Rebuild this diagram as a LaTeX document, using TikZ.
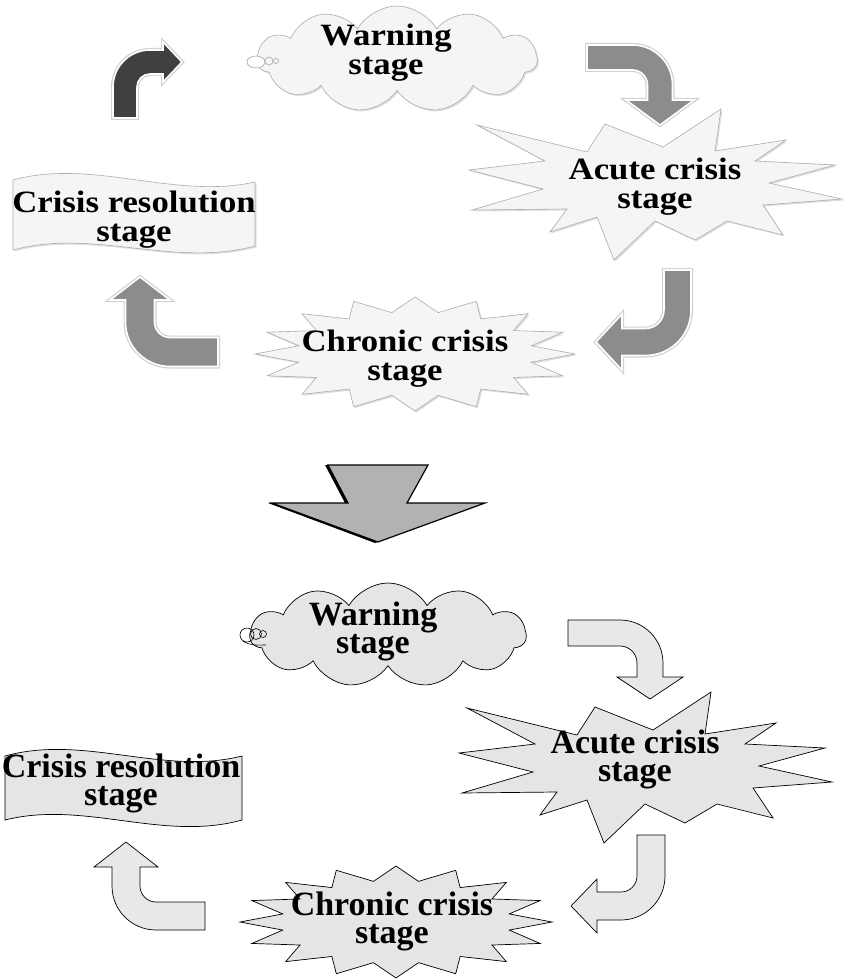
\documentclass[tikz,border=0pt]{standalone}
\usepackage{fontspec}
\setmainfont{Liberation Serif}
\usepackage{graphicx}
\usetikzlibrary{shapes.symbols,shadows}

% slightly widened lettering for the upper cycle
\newcommand{\wl}[1]{\scalebox{1.12}[1]{#1}}

% bent block arrow: #1 style, #2 origin (centre of shaft start), #3 rotation,
% #4 straight part, #5 centre-line bend radius, #6 shaft width,
% #7 distance to head base, #8 head half width, #9 head length
\newcommand{\bentarrow}[9]{%
  \begin{scope}[shift={#2}, rotate=#3]
    \path[#1] (0,{-#6/2}) -- (#4,{-#6/2})
      .. controls ({#4+0.552*(#5+#6/2)},{-#6/2}) and ({#4+#5+#6/2},{#5-0.552*(#5+#6/2)}) .. ({#4+#5+#6/2},#5)
      -- ({#4+#5+#6/2},#7) -- ({#4+#5+#8},#7) -- ({#4+#5},{#7+#9}) -- ({#4+#5-#8},#7)
      -- ({#4+#5-#6/2},#7) -- ({#4+#5-#6/2},#5)
      .. controls ({#4+#5-#6/2},{#5-0.552*(#5-#6/2)}) and ({#4+0.552*(#5-#6/2)},{#6/2}) .. (#4,{#6/2})
      -- (0,{#6/2}) -- cycle;
  \end{scope}}

% irregular explosion outline around (#2,#3)
\newcommand{\explosion}[3]{%
  \begin{scope}[shift={(#2,#3)}]
    \path[#1] (-178,-60) -- (-110,-24) -- (-186,-15) -- (-112,4) -- (-183,25) -- (-88,24)
      -- (-105,47) -- (-58,32) -- (-41,75) -- (0,36) -- (40,55) -- (72,36) -- (128,50)
      -- (108,20) -- (187,14) -- (114,-2) -- (180,-20) -- (100,-24) -- (131,-45)
      -- (60,-34) -- (66,-76) -- (8,-38) -- (-50,-61) -- (-68,-33) -- cycle;
  \end{scope}}

% sixteen-point star on an ellipse: centre, half axes, inner ratio
\newcommand{\starpath}[5]{%
  plot[samples at={0,...,31}, variable=\k]
    ({#1+#3*(1-(1-#5)*mod(\k,2))*cos(11.25*\k)},{#2+#4*(1-(1-#5)*mod(\k,2))*sin(11.25*\k)}) -- cycle}

\begin{document}
\begin{tikzpicture}[x=1pt,y=-1pt,
  topshape/.style={fill=gray!8, draw=gray!65, line width=0.6pt,
    drop shadow={shadow xshift=1.5pt, shadow yshift=-1.5pt, opacity=0.25}},
  botshape/.style={fill=gray!20, draw=black, line width=0.7pt},
  toparrow/.style={fill=black!45, draw=white, line width=1.6pt,
    preaction={draw=black!18, line width=4pt}},
  darkarrow/.style={fill=black!75, draw=white, line width=1.6pt,
    preaction={draw=black!18, line width=4pt}},
  botarrow/.style={fill=gray!18, draw=black, line width=0.7pt},
  cloudshape/.style={cloud, cloud puffs=11, cloud puff arc=120, aspect=2.7},
  toplabel/.style={font=\fontsize{31}{29}\selectfont\bfseries, align=center, inner sep=0pt},
  botlabel/.style={font=\fontsize{34}{28}\selectfont\bfseries, align=center, inner sep=0pt},
  bubble/.style={draw=#1, line width=0.6pt}]

\fill[white] (0,0) rectangle (845,979);
\useasboundingbox (0,0) rectangle (845,979);

% ---------------- upper cycle ----------------
\node[cloudshape, minimum width=280pt, minimum height=106pt, topshape] (cloudTop) at (397,59) {};
\draw[bubble=gray!70, fill=white] (256,62) ellipse [x radius=9, y radius=6];
\draw[bubble=gray!70] (269,61) circle [radius=4];
\draw[bubble=gray!70] (276,61) circle [radius=2.5];

\explosion{topshape}{655}{185}
\draw[topshape] \starpath{415}{354}{160}{57}{0.74};
\draw[topshape] (13,180) .. controls (93,158) and (174,200) .. (255,182)
  -- (255,246) .. controls (174,268) and (93,228) .. (13,250) -- cycle;

\bentarrow{toparrow}{(587,57.5)}{0}{45.5}{27.5}{25}{42.5}{34}{25}
\bentarrow{toparrow}{(677.5,270)}{-90}{40}{32}{27}{55.5}{28}{26}
\bentarrow{toparrow}{(218,352)}{180}{48}{30}{29}{52}{30}{23}
\bentarrow{darkarrow}{(125,118)}{90}{31}{25}{24}{38}{20}{19}

\node[toplabel] (tWarn)   at (386,53)  {\wl{Warning}\\\wl{stage}};
\node[toplabel] (tAcute)  at (655,187) {\wl{Acute crisis}\\\wl{stage}};
\node[toplabel] (tChron)  at (405,359) {\wl{Chronic crisis}\\\wl{stage}};
\node[toplabel] (tResol)  at (134,220) {\wl{Crisis resolution}\\\wl{stage}};

% ---------------- transition arrow ----------------
\fill[black] (325,465) -- (425,465) -- (404,503) -- (482,503) -- (375,543) -- (268,503) -- (345,503) -- cycle;
\draw[fill=black!30, draw=black, line width=1.2pt]
  (328,465) -- (428,465) -- (407,503) -- (485,503) -- (378,542) -- (272,503) -- (348,503) -- cycle;

% ---------------- lower cycle ----------------
\node[cloudshape, minimum width=276pt, minimum height=104pt, botshape] (cloudBot) at (388,635) {};
\draw[bubble=black] (247,635) circle [radius=7];
\draw[bubble=black] (256,634) circle [radius=5.5];
\draw[bubble=black] (263,634) circle [radius=3.5];
\draw[bubble=black] (243,641) .. controls (250,646) and (258,645) .. (266,645);

\explosion{botshape}{645}{768}
\draw[botshape] \starpath{396}{922}{156}{56}{0.74};
\draw[botshape] (5,756) .. controls (84,734) and (163,776) .. (242,756)
  -- (242,820) .. controls (163,842) and (84,800) .. (5,820) -- cycle;

\bentarrow{botarrow}{(568,633)}{0}{52}{30}{26}{44}{33}{22}
\bentarrow{botarrow}{(651,835)}{-90}{41}{30}{28}{54}{27}{26}
\bentarrow{botarrow}{(205,916)}{180}{49}{30}{28}{49}{32}{25}

\node[botlabel] (bWarn)  at (373,631) {Warning\\stage};
\node[botlabel] (bAcute) at (635,759) {Acute crisis\\stage};
\node[botlabel] (bChron) at (392,921) {Chronic crisis\\stage};
\node[botlabel] (bResol) at (121,783) {Crisis resolution\\stage};
\end{tikzpicture}
\end{document}
